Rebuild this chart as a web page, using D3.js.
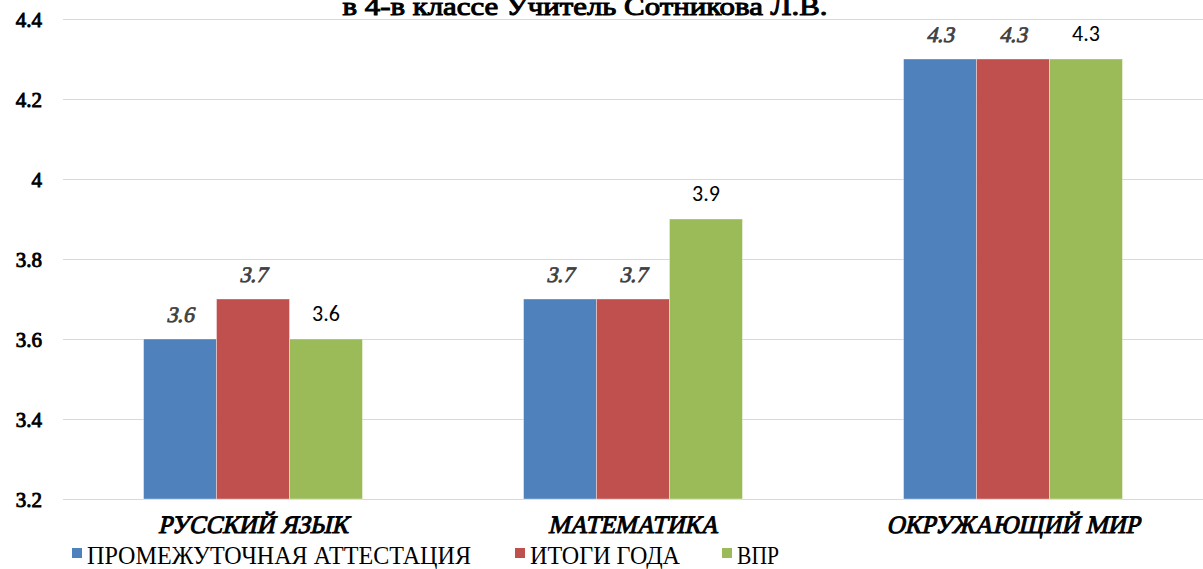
<!DOCTYPE html>
<html><head><meta charset="utf-8">
<script src="https://cdn.jsdelivr.net/npm/d3@7"></script>
<style>body{margin:0;background:#fff;} svg{display:block;}</style>
</head><body>
<svg id="c" width="1203" height="569"></svg>
<script>
const categories = ["РУССКИЙ ЯЗЫК", "МАТЕМАТИКА", "ОКРУЖАЮЩИЙ МИР"];
const seriesNames = ["ПРОМЕЖУТОЧНАЯ АТТЕСТАЦИЯ", "ИТОГИ ГОДА", "ВПР"];
const promezhutochnaya = [3.6, 3.7, 4.3];
const itogiGoda = [3.7, 3.7, 4.3];
const vpr = [3.6, 3.9, 4.3];
const yTicks = [3.2, 3.4, 3.6, 3.8, 4.0, 4.2, 4.4];
const yTickLabels = ["3.2", "3.4", "3.6", "3.8", "4", "4.2", "4.4"];
const title = "в 4-в классе Учитель Сотникова Л.В.";
const colors = ["#4F81BD", "#C0504D", "#9BBB59"];

(function () {
const SERIF = "Liberation Serif";
const SANS = "Carlito, 'Open Sans', 'Liberation Sans', sans-serif";
const seriesValues = [promezhutochnaya, itogiGoda, vpr];
const svg = d3.select("#c");
const pLeft = 63, pRight = 1203, pTop = 19, pBottom = 499;
// faux bold via stroke, faux italic via skew (serif bold faces unavailable)
const fauxBold = (sel, color, w) => sel.attr("fill", color).attr("stroke", color).attr("stroke-width", w).attr("paint-order", "stroke");

const y = d3.scaleLinear().domain([3.2, 4.4]).range([pBottom, pTop]);
const x0 = d3.scaleBand().domain(categories).range([pLeft, pRight]).paddingInner(0.424).paddingOuter(0.212);
const x1 = d3.scaleBand().domain(seriesNames).range([0, x0.bandwidth()]);

const grid = svg.append("g")
  .attr("transform", `translate(${pLeft},0)`)
  .call(d3.axisLeft(y).tickValues(yTicks).tickSize(-(pRight - pLeft)).tickFormat(""));
grid.select(".domain").remove();
grid.selectAll("line").attr("stroke", "#d9d9d9").attr("stroke-width", 1.2);

const yAxis = svg.append("g").attr("transform", `translate(42,0)`)
  .call(d3.axisLeft(y).tickValues(yTicks).tickSize(0).tickPadding(0)
    .tickFormat((d, i) => yTickLabels[i]));
yAxis.select(".domain").remove();
yAxis.attr("font-family", null).attr("font-size", null);
yAxis.selectAll("text").style("font-family", SERIF).style("font-size", "21px").attr("dy", "0.35em")
  .call(fauxBold, "#000", 0.9);

const groups = svg.append("g").selectAll("g").data(categories).join("g")
  .attr("transform", d => `translate(${x0(d)},0)`);
groups.selectAll("rect").data((d, ci) => seriesNames.map((s, si) => ({ s, si, v: seriesValues[si][ci] })))
  .join("rect")
  .attr("x", d => x1(d.s)).attr("width", x1.bandwidth())
  .attr("y", d => y(d.v)).attr("height", d => y(3.2) - y(d.v))
  .attr("fill", d => colors[d.si]).attr("stroke", "#ffffff").attr("stroke-width", 0.6).attr("stroke-opacity", 0.6);

const labelData = (d, ci) => seriesNames.map((s, si) => ({ s, si, v: seriesValues[si][ci] }));
// serif bold-italic labels (first two series)
groups.selectAll("text.val").data((d, ci) => labelData(d, ci).filter(e => e.si < 2))
  .join("text").attr("class", "val")
  .attr("transform", d => `translate(${x1(d.s) + x1.bandwidth() / 2},${y(d.v) - 17}) skewX(-13)`)
  .attr("text-anchor", "middle")
  .style("font-family", SERIF).style("font-size", "22px")
  .call(fauxBold, "#404040", 0.8)
  .text(d => d.v.toFixed(1));
// sans labels (third series)
groups.selectAll("text.val2").data((d, ci) => labelData(d, ci).filter(e => e.si === 2))
  .join("text").attr("class", "val2")
  .attr("x", d => x1(d.s) + x1.bandwidth() / 2)
  .attr("y", d => y(d.v) - 18)
  .attr("text-anchor", "middle")
  .style("font-family", SANS).style("font-size", "22px")
  .attr("fill", "#000")
  .text(d => d.v.toFixed(1));

const catWidths = [190, 170, 253];
svg.append("g").selectAll("text").data(categories).join("text")
  .attr("transform", d => `translate(${x0(d) + x0.bandwidth() / 2},533) skewX(-13)`)
  .attr("text-anchor", "middle")
  .style("font-family", SERIF).style("font-size", "25px")
  .call(fauxBold, "#000", 1)
  .attr("textLength", (d, i) => catWidths[i]).attr("lengthAdjust", "spacingAndGlyphs")
  .text(d => d);

const legendX = [72, 515, 722];
const legendW = [384, 150, 42];
const lg = svg.append("g").selectAll("g").data(seriesNames).join("g")
  .attr("transform", (d, i) => `translate(${legendX[i]},0)`);
lg.append("rect").attr("x", 0).attr("y", 548).attr("width", 10).attr("height", 10)
  .attr("fill", (d, i) => colors[i]);
lg.append("text").attr("x", 15).attr("y", 564)
  .style("font-family", SERIF).style("font-size", "26px").attr("fill", "#000")
  .attr("textLength", (d, i) => legendW[i]).attr("lengthAdjust", "spacingAndGlyphs")
  .text(d => d);

svg.append("text").attr("x", 585).attr("y", 15).attr("text-anchor", "middle")
  .style("font-family", SERIF).style("font-size", "26px")
  .call(fauxBold, "#000", 1)
  .attr("textLength", 485).attr("lengthAdjust", "spacingAndGlyphs")
  .text(title);
})();
</script>
</body></html>
